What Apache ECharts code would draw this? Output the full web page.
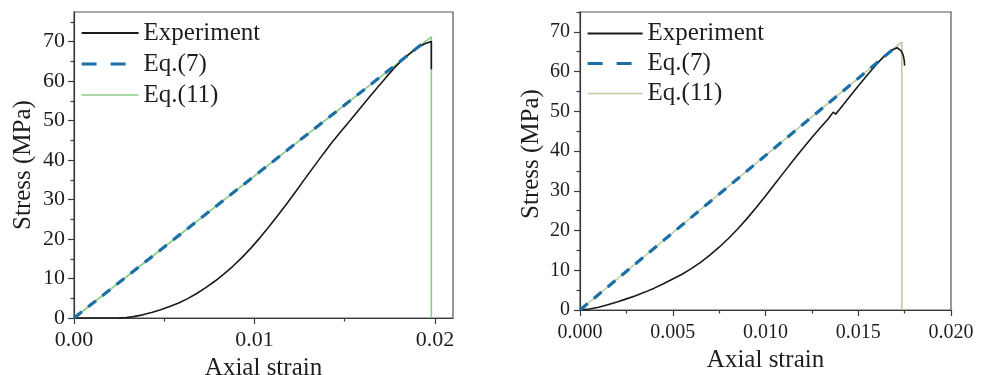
<!DOCTYPE html>
<html>
<head>
<meta charset="utf-8">
<script src="https://cdn.jsdelivr.net/npm/echarts@6/dist/echarts.min.js"></script>
<style>
  html, body { margin: 0; padding: 0; background: #fff; }
  #chart { width: 981px; height: 375px; }
</style>
</head>
<body>
<div id="chart"></div>
<script>
// ---- Specimen A (left panel) ----
const aExpStrain = [0, 0.001, 0.002, 0.0025, 0.0029, 0.0033, 0.0038, 0.0043, 0.0048, 0.0053, 0.0058, 0.0063, 0.0068, 0.0073, 0.0078, 0.0083, 0.0088, 0.0093, 0.0098, 0.0103, 0.0108, 0.0113, 0.0118, 0.0123, 0.0128, 0.0133, 0.0138, 0.0143, 0.0148, 0.0153, 0.0158, 0.0163, 0.0168, 0.0173, 0.0178, 0.0183, 0.0188, 0.0192, 0.0195, 0.0198, 0.0198];
const aExpStress = [0, 0, 0, 0.03, 0.12, 0.35, 0.8, 1.4, 2.1, 2.9, 3.8, 4.9, 6.2, 7.7, 9.3, 11.1, 13.1, 15.3, 17.7, 20.3, 23.1, 26.0, 29.0, 32.1, 35.3, 38.4, 41.5, 44.5, 47.3, 50.0, 52.8, 55.6, 58.3, 61.0, 63.6, 65.8, 67.7, 68.9, 69.6, 70.0, 63.0];
const aEq7Strain = [0, 0.0194];
const aEq7Stress = [0, 69.8];
const aEq11Strain = [0, 0.0198, 0.0198];
const aEq11Stress = [0, 71.2, 0];

// ---- Specimen B (right panel) ----
const bExpStrain = [0, 0.0005, 0.0010, 0.0015, 0.0020, 0.0025, 0.0030, 0.0035, 0.0040, 0.0045, 0.0050, 0.0055, 0.0060, 0.0065, 0.0070, 0.0075, 0.0080, 0.0085, 0.0090, 0.0095, 0.0100, 0.0105, 0.0110, 0.0115, 0.0120, 0.0125, 0.0130, 0.0134, 0.01365, 0.01378, 0.0140, 0.0145, 0.0150, 0.0155, 0.0160, 0.0164, 0.0168, 0.0171, 0.0173, 0.01742, 0.01748, 0.0175];
const bExpStress = [0, 0.25, 0.7, 1.3, 2.0, 2.8, 3.6, 4.5, 5.5, 6.6, 7.8, 9.0, 10.4, 12.0, 13.8, 15.8, 18.0, 20.4, 23.0, 25.8, 28.7, 31.7, 34.7, 37.7, 40.6, 43.4, 46.1, 48.2, 49.8, 49.3, 50.5, 53.5, 56.4, 59.2, 61.9, 63.9, 65.4, 66.0, 65.3, 64.2, 62.8, 61.5];
const bEq7Strain = [0, 0.0169];
const bEq7Stress = [0, 65.7];
const bEq11Strain = [0, 0.01735, 0.01735];
const bEq11Stress = [0, 67.5, 0];

// ---- Tick values ----
const aStrainTicks = [0, 0.01, 0.02];
const aStrainMinor = [0.005, 0.015];
const aStressTicks = [0, 10, 20, 30, 40, 50, 60, 70];
const aStressMinor = [5, 15, 25, 35, 45, 55, 65, 75];
const bStrainTicks = [0, 0.005, 0.010, 0.015, 0.020];
const bStrainMinor = [0.0025, 0.0075, 0.0125, 0.0175];
const bStressTicks = [0, 10, 20, 30, 40, 50, 60, 70];
const bStressMinor = [5, 15, 25, 35, 45, 55, 65, 75];

const seriesNames = ['Experiment', 'Eq.(7)', 'Eq.(11)'];

const FONT = '"Liberation Serif", "Times New Roman", serif';
const TEXT = '#1e1e1e';
const AXIS = '#3a3a3a';
const BLACK = '#1a1a1a';
const BLUE = '#1c6ea6';
const GREEN_A = '#8ccb8a';
const GREEN_B = '#bccda2';

const zip = (xs, ys) => xs.map((x, i) => [x, ys[i]]);

function majorAxis(gridIndex, min, max, ticks, fmt, name, nameGap, fontSize, margin, namePadding) {
  return {
    type: 'value', gridIndex, min, max,
    name, nameLocation: 'middle', nameGap,
    nameTextStyle: { fontFamily: FONT, fontSize: 25, color: TEXT, padding: namePadding || 0 },
    axisLine: { show: true, onZero: false, lineStyle: { color: AXIS, width: 1.2 } },
    axisTick: { show: true, inside: false, length: 6, customValues: ticks, lineStyle: { color: AXIS, width: 1.2 } },
    axisLabel: { customValues: ticks, formatter: fmt, fontFamily: FONT, fontSize, color: TEXT, margin },
    splitLine: { show: false },
    minorTick: { show: false }
  };
}
function minorAxis(gridIndex, min, max, ticks, position) {
  return {
    type: 'value', gridIndex, min, max, position, offset: 0,
    axisLine: { show: false },
    axisTick: { show: true, inside: false, length: 3.5, customValues: ticks, lineStyle: { color: AXIS, width: 1.2 } },
    axisLabel: { show: false },
    splitLine: { show: false }
  };
}

const fmt2 = v => v.toFixed(2);
const fmt3 = v => v.toFixed(3);
const fmt0 = v => String(Math.round(v));

// Legend keys: long dashes for Eq.(7), panel-specific green for Eq.(11)
function legendFor(left, top, itemWidth, itemGap, green) {
  return {
    orient: 'vertical', left, top, itemWidth, itemHeight: 14, itemGap,
    selectedMode: false,
    itemStyle: { opacity: 0 },
    textStyle: { fontFamily: FONT, fontSize: 25, color: TEXT },
    data: [
      { name: seriesNames[0] },
      { name: seriesNames[1], lineStyle: { type: [15, 14], width: 3.2, color: BLUE } },
      { name: seriesNames[2], lineStyle: { color: green, width: 1.6 } }
    ]
  };
}

function lineSeries(name, data, xi, yi, color, width, type, z) {
  return {
    type: 'line', name, data, xAxisIndex: xi, yAxisIndex: yi,
    symbol: 'none', smooth: false, z, silent: true,
    lineStyle: { color, width, type },
    itemStyle: { color }
  };
}

const option = {
  animation: false,
  backgroundColor: '#ffffff',
  grid: [
    { left: 74, top: 12, width: 379, height: 306, outerBoundsMode: 'none', containLabel: false, show: true, borderColor: '#555', borderWidth: 1.2, backgroundColor: 'transparent' },
    { left: 580, top: 12, width: 371, height: 298, outerBoundsMode: 'none', containLabel: false, show: true, borderColor: '#555', borderWidth: 1.2, backgroundColor: 'transparent' }
  ],
  legend: [
    legendFor(75, 15.5, 57, 6, GREEN_A),
    legendFor(581, 16, 55, 5, GREEN_B)
  ],
  xAxis: [
    majorAxis(0, 0, 0.021, aStrainTicks, fmt2, 'Axial strain', 25, 22, 11),
    minorAxis(0, 0, 0.021, aStrainMinor, 'bottom'),
    majorAxis(1, 0, 0.020, bStrainTicks, fmt3, 'Axial strain', 32, 20, 13),
    minorAxis(1, 0, 0.020, bStrainMinor, 'bottom')
  ],
  yAxis: [
    majorAxis(0, 0, 77.5, aStressTicks, fmt0, 'Stress (MPa)', 38, 22, 9),
    minorAxis(0, 0, 77.5, aStressMinor, 'left'),
    majorAxis(1, 0, 75, bStressTicks, fmt0, 'Stress (MPa)', 36, 20, 10, [0, 0, 0, 14]),
    minorAxis(1, 0, 75, bStressMinor, 'left')
  ],
  series: [
    lineSeries(seriesNames[0], zip(aExpStrain, aExpStress), 0, 0, BLACK, 1.6, 'solid', 3),
    lineSeries(seriesNames[1], zip(aEq7Strain, aEq7Stress), 0, 0, BLUE, 3.2, [10, 8], 4),
    lineSeries(seriesNames[2], zip(aEq11Strain, aEq11Stress), 0, 0, GREEN_A, 1.6, 'solid', 2),
    lineSeries(seriesNames[0], zip(bExpStrain, bExpStress), 2, 2, BLACK, 1.6, 'solid', 3),
    lineSeries(seriesNames[1], zip(bEq7Strain, bEq7Stress), 2, 2, BLUE, 3.2, [10, 8], 4),
    lineSeries(seriesNames[2], zip(bEq11Strain, bEq11Stress), 2, 2, GREEN_B, 1.6, 'solid', 2)
  ]
};

const chart = echarts.init(document.getElementById('chart'), null, { renderer: 'canvas' });
chart.setOption(option);
</script>
</body>
</html>
